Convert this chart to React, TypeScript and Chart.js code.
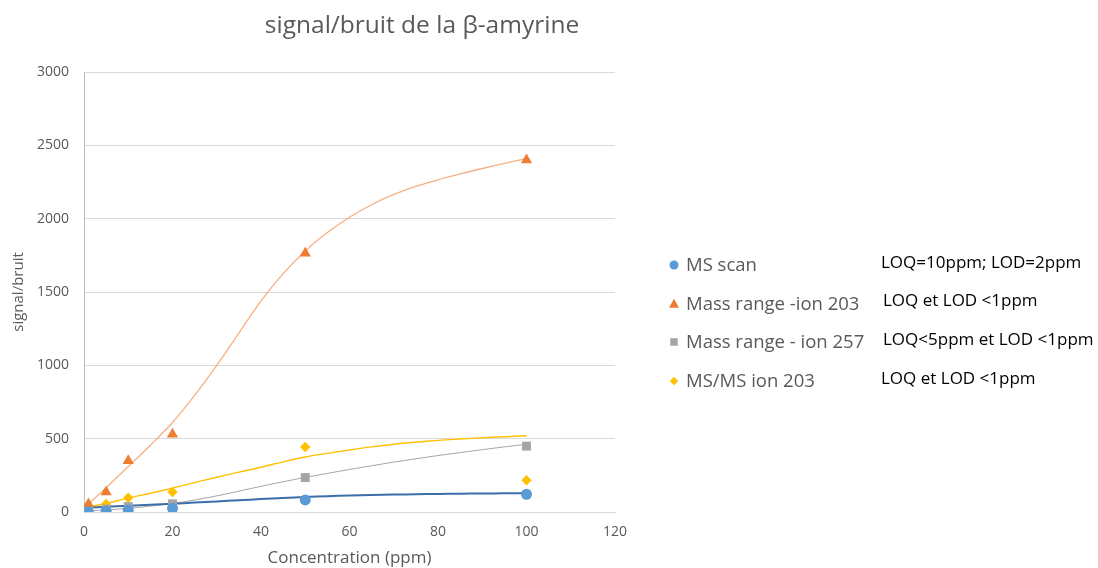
import React, { useEffect, useRef } from "react";
import { Chart, registerables } from "chart.js";

Chart.register(...registerables);

// ---- data ----
const chartTitle = "signal/bruit de la β-amyrine";
const xAxisTitle = "Concentration (ppm)";
const yAxisTitle = "signal/bruit";

const concentrations = [1, 5, 10, 20, 50, 100];
const msScan = [2, 6, 13, 25, 82, 121];
const massRange203 = [55, 137, 349, 530, 1764, 2400];
const massRange257 = [8, 20, 37, 56, 235, 449];
const msms203 = [30, 55, 97, 136, 443, 216];

// trendlines
const trendX = [1, 5, 10, 15, 20, 25, 30, 35, 40, 45, 50, 55, 60, 65, 70, 75, 80, 85, 90, 95, 100];
const msScanTrend = [30, 36, 42, 49, 56, 64, 72, 80, 88, 96, 103, 108, 113, 116, 119, 121, 123, 125, 126, 127, 128];
const massRange203Trend = [55, 165, 310, 455, 610, 795, 1000, 1220, 1440, 1625, 1780, 1905, 2010, 2095, 2165, 2220, 2265, 2305, 2342, 2377, 2410];
const massRange257Trend = [10, 14, 25, 40, 58, 82, 110, 142, 175, 206, 236, 263, 290, 315, 340, 363, 385, 405, 425, 444, 462];
const msms203Trend = [35, 58, 95, 128, 163, 200, 237, 272, 305, 342, 375, 400, 423, 444, 462, 476, 488, 498, 506, 513, 520];

const seriesLabels = ["MS scan", "Mass range -ion 203", "Mass range - ion 257", "MS/MS ion 203"];
const seriesNotes = ["LOQ=10ppm; LOD=2ppm", "LOQ et LOD <1ppm", "LOQ<5ppm et LOD <1ppm", "LOQ et LOD <1ppm"];

const xMin = 0, xMax = 120, xStep = 20;
const yMin = 0, yMax = 3000, yStep = 500;

// ---- styles ----
const markerColors = ["#5B9BD5", "#ED7D31", "#A5A5A5", "#FFC000"];
const markerShapes = ["circle", "triangle", "rect", "rectRot"];
const markerRadii = [5.5, 6.5, 6.3, 5.2];
const trendColors = ["#3C6EA8", "#F4B183", "#A5A5A5", "#FFC000"];
const trendWidths = [2, 1.3, 1, 1.4];
const textGrey = "#595959";
const FONT = "'Open Sans', 'DejaVu Sans', sans-serif";

function drawMarker(ctx: CanvasRenderingContext2D, shape: string, x: number, y: number, s: number, color: string) {
  ctx.save();
  ctx.fillStyle = color;
  ctx.beginPath();
  if (shape === "circle") {
    ctx.arc(x, y, s / 2, 0, Math.PI * 2);
  } else if (shape === "triangle") {
    const h = s * 0.87;
    ctx.moveTo(x, y - h / 2 - 0.5);
    ctx.lineTo(x + s / 2, y + h / 2);
    ctx.lineTo(x - s / 2, y + h / 2);
    ctx.closePath();
  } else if (shape === "rect") {
    ctx.rect(x - s / 2, y - s / 2, s, s);
  } else {
    ctx.moveTo(x, y - s / 2);
    ctx.lineTo(x + s / 2, y);
    ctx.lineTo(x, y + s / 2);
    ctx.lineTo(x - s / 2, y);
    ctx.closePath();
  }
  ctx.fill();
  ctx.restore();
}

const overlayPlugin = {
  id: "overlay",
  afterDraw(chart: any) {
    const ctx: CanvasRenderingContext2D = chart.ctx;
    ctx.save();
    // title
    ctx.fillStyle = textGrey;
    ctx.font = `24.5px ${FONT}`;
    ctx.textAlign = "center";
    ctx.textBaseline = "middle";
    ctx.fillText(chartTitle, 422, 26);

    // legend + notes
    const legendY = [265, 303.5, 342, 381];
    const legendSizes = [9, 10, 7.5, 8.5];
    const noteX = [881, 883, 883, 881];
    for (let i = 0; i < seriesLabels.length; i++) {
      const y = legendY[i];
      drawMarker(ctx, markerShapes[i], 674, y, legendSizes[i], markerColors[i]);
      ctx.fillStyle = textGrey;
      ctx.font = `18.5px ${FONT}`;
      ctx.textAlign = "left";
      ctx.textBaseline = "middle";
      ctx.fillText(seriesLabels[i], 686, y + 1);
      ctx.fillStyle = "#000000";
      ctx.font = `17px ${FONT}`;
      ctx.fillText(seriesNotes[i], noteX[i], y - 2);
    }
    ctx.restore();
  },
};

export default function App() {
  const canvasRef = useRef<HTMLCanvasElement | null>(null);

  useEffect(() => {
    if (!canvasRef.current) return;
    const markerSets = [msScan, massRange203, massRange257, msms203];
    const trendSets = [msScanTrend, massRange203Trend, massRange257Trend, msms203Trend];

    const datasets: any[] = [];
    markerSets.forEach((vals, i) => {
      datasets.push({
        type: "scatter",
        label: seriesLabels[i],
        data: concentrations.map((x, j) => ({ x, y: vals[j] })),
        pointStyle: markerShapes[i],
        pointRadius: markerRadii[i],
        pointHoverRadius: markerRadii[i],
        backgroundColor: markerColors[i],
        borderColor: markerColors[i],
        borderWidth: 0,
        showLine: false,
        order: 0,
      });
    });
    trendSets.forEach((vals, i) => {
      datasets.push({
        type: "line",
        label: seriesLabels[i] + " trend",
        data: trendX.map((x, j) => ({ x, y: vals[j] })),
        borderColor: trendColors[i],
        borderWidth: trendWidths[i],
        pointRadius: 0,
        fill: false,
        tension: 0.35,
        order: 1,
      });
    });

    const chart = new Chart(canvasRef.current, {
      type: "scatter",
      data: { datasets },
      options: {
        animation: false,
        responsive: false,
        maintainAspectRatio: false,
        layout: { padding: { top: 72, right: 483, left: 0, bottom: 0 } },
        plugins: {
          legend: { display: false },
          title: { display: false },
          tooltip: { enabled: false },
        },
        scales: {
          x: {
            type: "linear",
            min: xMin,
            max: xMax,
            ticks: {
              stepSize: xStep,
              color: textGrey,
              font: { family: FONT, size: 14 },
              padding: 12,
              callback: (v: any) => String(v),
            },
            grid: { display: false, drawTicks: false },
            border: { display: true, color: "#D9D9D9", width: 1 },
            title: {
              display: true,
              text: xAxisTitle,
              color: textGrey,
              font: { family: FONT, size: 17 },
              padding: { top: 0, bottom: 0 },
            },
            afterFit: (scale: any) => {
              scale.height = 56;
            },
          },
          y: {
            type: "linear",
            min: yMin,
            max: yMax,
            ticks: {
              stepSize: yStep,
              color: textGrey,
              font: { family: FONT, size: 14 },
              padding: 15,
              callback: (v: any) => String(v),
            },
            grid: { color: "#D9D9D9", lineWidth: 1, drawTicks: false },
            border: { display: true, color: "#BFBFBF", width: 1 },
            title: {
              display: true,
              text: yAxisTitle,
              color: textGrey,
              font: { family: FONT, size: 15 },
              padding: { top: 10, bottom: 0 },
            },
            afterFit: (scale: any) => {
              scale.width = 84;
            },
          },
        },
      } as any,
      plugins: [overlayPlugin],
    });
    return () => chart.destroy();
  }, []);

  return (
    <div style={{ position: "absolute", left: 0, top: 0, width: 1098, height: 568, background: "#fff" }}>
      <canvas ref={canvasRef} width={1098} height={568} style={{ display: "block" }} />
    </div>
  );
}
